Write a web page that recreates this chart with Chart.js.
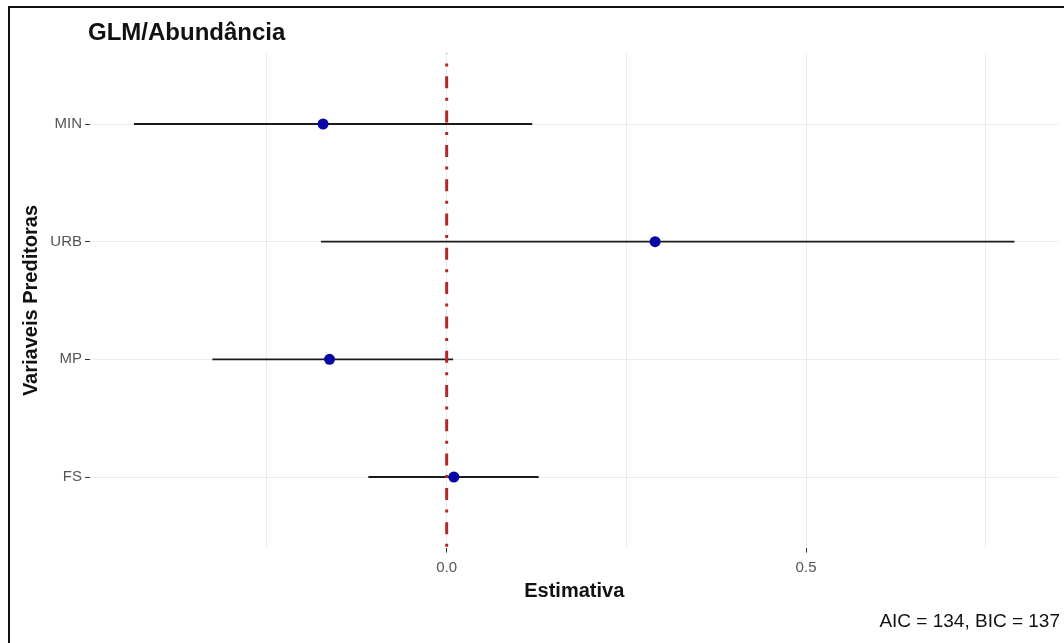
<!DOCTYPE html>
<html>
<head>
<meta charset="utf-8">
<title>GLM/Abundância</title>
<script src="https://cdn.jsdelivr.net/npm/chart.js@4/dist/chart.umd.min.js"></script>
<style>
  html, body { margin: 0; padding: 0; background: #fff; }
  #wrap { position: relative; width: 1064px; height: 643px; overflow: hidden; background: #fff; }
  #wrap canvas { position: absolute; left: 0; top: 0; }
  #frame {
    position: absolute; left: 8px; top: 6px; width: 1100px; height: 700px;
    border-left: 2px solid #111; border-top: 2px solid #111; pointer-events: none;
  }
</style>
</head>
<body>
<div id="wrap">
  <canvas id="chart" width="1064" height="643"></canvas>
  <div id="frame"></div>
</div>
<script>
// Coefficient estimates with their confidence intervals, one row per predictor (top to bottom)
const predictors = ['MIN', 'URB', 'MP', 'FS'];
const estimates  = [-0.172, 0.290, -0.163, 0.010];
const ciLower    = [-0.435, -0.175, -0.326, -0.109];
const ciUpper    = [0.119, 0.790, 0.009, 0.128];

// X axis: labelled breaks and the minor grid positions between them
const xMajorTicks = [0, 0.5];
const xMinorTicks = [-0.25, 0.25, 0.75];

const chartTitle = 'GLM/Abundância';
const xTitle = 'Estimativa';
const yTitle = 'Variaveis Preditoras';
const caption = 'AIC = 134, BIC = 137';

const FONT = '"Liberation Sans", Arial, Helvetica, sans-serif';

// Axis ranges: the intervals padded by 5% on x, rows padded by 0.6 on y
const lo = Math.min(...ciLower), hi = Math.max(...ciUpper);
const xMin = lo - 0.05 * (hi - lo);
const xMax = hi + 0.05 * (hi - lo);
const yMin = 0.4, yMax = predictors.length + 0.6;
const xGridValues = [...xMajorTicks, ...xMinorTicks].sort((a, b) => a - b);

// Horizontal interval segments
const intervalSets = predictors.map((name, i) => ({
  label: name,
  data: [{ x: ciLower[i], y: i + 1 }, { x: ciUpper[i], y: i + 1 }],
  showLine: true,
  borderColor: '#1a1a1a',
  borderWidth: 1.8,
  pointRadius: 0,
  order: 2
}));

// Reference line at zero (dot-dash)
const zeroSet = {
  label: 'zero',
  data: [{ x: 0, y: yMin }, { x: 0, y: yMax }],
  showLine: true,
  borderColor: '#b3272a',
  borderWidth: 3,
  borderDash: [12, 9.5, 3, 9.8],
  borderDashOffset: 11.4,
  pointRadius: 0,
  order: 1
};

// Point estimates
const pointSet = {
  label: 'Estimativa',
  data: estimates.map((e, i) => ({ x: e, y: i + 1 })),
  showLine: false,
  pointRadius: 5.5,
  pointBackgroundColor: '#0707a3',
  pointBorderColor: '#0707a3',
  pointBorderWidth: 0,
  order: 0
};

// Title aligned with the left edge of the panel
const panelTitle = {
  id: 'panelTitle',
  afterDraw(chart) {
    const { ctx, chartArea } = chart;
    ctx.save();
    ctx.font = 'bold 24px ' + FONT;
    ctx.fillStyle = '#111';
    ctx.textAlign = 'left';
    ctx.textBaseline = 'alphabetic';
    ctx.fillText(chartTitle, chartArea.left - 2, 40);
    ctx.restore();
  }
};

new Chart(document.getElementById('chart'), {
  type: 'scatter',
  data: { datasets: [pointSet, zeroSet, ...intervalSets] },
  plugins: [panelTitle],
  options: {
    responsive: false,
    animation: false,
    devicePixelRatio: 1,
    layout: { padding: { left: 0, right: 4, top: 53.4, bottom: 10 } },
    plugins: {
      legend: { display: false },
      tooltip: { enabled: false },
      title: { display: false },
      subtitle: {
        display: true,
        text: caption,
        position: 'bottom',
        align: 'end',
        color: '#111',
        font: { family: FONT, size: 19 },
        padding: { top: 0, bottom: 0 }
      }
    },
    scales: {
      x: {
        type: 'linear',
        min: xMin,
        max: xMax,
        afterBuildTicks: (s) => { s.ticks = xGridValues.map(v => ({ value: v })); },
        afterFit: (s) => { s.height = 62.6; },
        border: { display: false },
        grid: {
          color: '#ebebeb',
          lineWidth: 1,
          drawTicks: true,
          tickLength: 5,
          tickWidth: 1,
          tickColor: (ctx) => (ctx.tick && xMajorTicks.includes(ctx.tick.value)) ? '#333' : 'rgba(0,0,0,0)'
        },
        ticks: {
          autoSkip: false,
          maxRotation: 0,
          padding: 6,
          color: '#555',
          font: { family: FONT, size: 15 },
          callback: (v) => xMajorTicks.includes(v) ? Number(v).toFixed(1) : ''
        },
        title: {
          display: true,
          text: xTitle,
          color: '#111',
          font: { family: FONT, size: 20, weight: 'bold' },
          padding: { top: 0, bottom: 7 }
        }
      },
      y: {
        type: 'linear',
        min: yMin,
        max: yMax,
        reverse: true,
        afterBuildTicks: (s) => { s.ticks = predictors.map((_, i) => ({ value: i + 1 })); },
        afterFit: (s) => { s.width = 90; },
        border: { display: false },
        grid: {
          color: '#ebebeb',
          lineWidth: 1,
          drawTicks: true,
          tickLength: 5,
          tickWidth: 1,
          tickColor: '#333'
        },
        ticks: {
          autoSkip: false,
          padding: 3,
          color: '#555',
          font: { family: FONT, size: 15 },
          callback: (v) => predictors[Math.round(v) - 1]
        },
        title: {
          display: true,
          text: yTitle,
          color: '#111',
          font: { family: FONT, size: 20, weight: 'bold' },
          padding: { top: 19, bottom: 0 }
        }
      }
    }
  }
});
</script>
</body>
</html>
